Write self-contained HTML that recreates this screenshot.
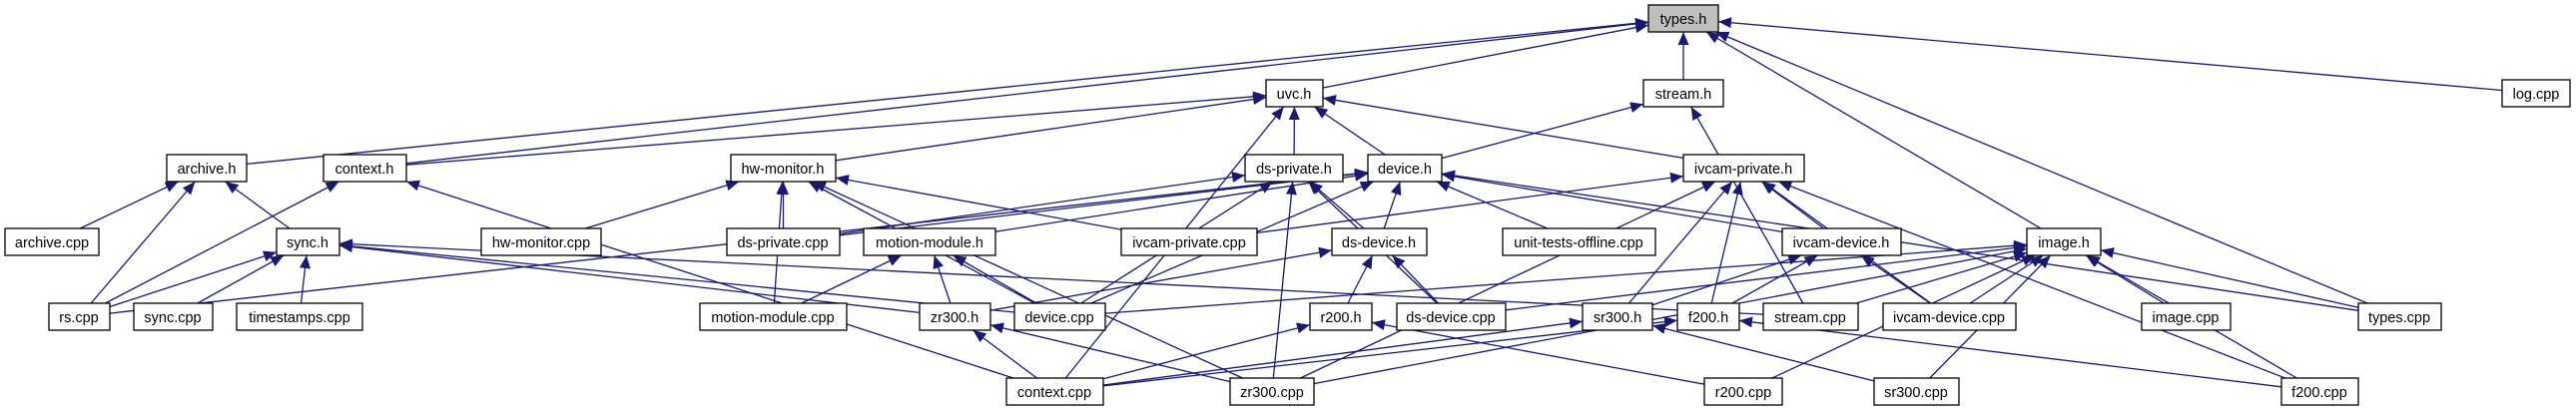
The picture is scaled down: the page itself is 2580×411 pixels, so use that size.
<!DOCTYPE html>
<html><head><meta charset="utf-8"><style>
html,body{margin:0;padding:0;background:#fff;}
svg{display:block;}
text{font-family:"Liberation Sans",sans-serif;font-size:14.5px;fill:#000;text-anchor:middle;}
rect{fill:#fff;stroke:#000;stroke-width:1.3;}
</style></head><body>
<svg id="g" width="2580" height="411" viewBox="0 0 2580 411" xmlns="http://www.w3.org/2000/svg">
<defs><marker id="a" markerUnits="userSpaceOnUse" markerWidth="14" markerHeight="12" refX="13" refY="5.5" orient="auto"><path d="M0,0 L13,5.5 L0,11 z" fill="#191970"/></marker></defs>
<g id="edges" fill="none" stroke="#191970" stroke-width="1.3"></g>
<g id="nodes">
<rect x="1651" y="5" width="70" height="27" style="fill:#bfbfbf"/><text x="1686" y="24">types.h</text>
<rect x="1268" y="80" width="57" height="27"/><text x="1296" y="99">uvc.h</text>
<rect x="1646" y="80" width="80" height="27"/><text x="1686" y="99">stream.h</text>
<rect x="2506" y="80" width="68" height="27"/><text x="2540" y="99">log.cpp</text>
<rect x="167" y="155" width="80" height="27"/><text x="207" y="174">archive.h</text>
<rect x="324" y="155" width="83" height="27"/><text x="365" y="174">context.h</text>
<rect x="732" y="155" width="105" height="27"/><text x="784" y="174">hw-monitor.h</text>
<rect x="1247" y="155" width="98" height="27"/><text x="1296" y="174">ds-private.h</text>
<rect x="1370" y="155" width="74" height="27"/><text x="1407" y="174">device.h</text>
<rect x="1686" y="155" width="121" height="27"/><text x="1746" y="174">ivcam-private.h</text>
<rect x="5" y="229" width="94" height="27"/><text x="52" y="248">archive.cpp</text>
<rect x="277" y="229" width="63" height="27"/><text x="308" y="248">sync.h</text>
<rect x="482" y="229" width="120" height="27"/><text x="542" y="248">hw-monitor.cpp</text>
<rect x="728" y="229" width="113" height="27"/><text x="784" y="248">ds-private.cpp</text>
<rect x="865" y="229" width="132" height="27"/><text x="931" y="248">motion-module.h</text>
<rect x="1123" y="229" width="136" height="27"/><text x="1191" y="248">ivcam-private.cpp</text>
<rect x="1334" y="229" width="95" height="27"/><text x="1381" y="248">ds-device.h</text>
<rect x="1505" y="229" width="153" height="27"/><text x="1581" y="248">unit-tests-offline.cpp</text>
<rect x="1785" y="229" width="119" height="27"/><text x="1844" y="248">ivcam-device.h</text>
<rect x="2030" y="229" width="74" height="27"/><text x="2067" y="248">image.h</text>
<rect x="49" y="304" width="61" height="27"/><text x="79" y="323">rs.cpp</text>
<rect x="134" y="304" width="79" height="27"/><text x="173" y="323">sync.cpp</text>
<rect x="237" y="304" width="126" height="27"/><text x="300" y="323">timestamps.cpp</text>
<rect x="701" y="304" width="147" height="27"/><text x="774" y="323">motion-module.cpp</text>
<rect x="921" y="304" width="71" height="27"/><text x="956" y="323">zr300.h</text>
<rect x="1016" y="304" width="91" height="27"/><text x="1061" y="323">device.cpp</text>
<rect x="1312" y="304" width="62" height="27"/><text x="1343" y="323">r200.h</text>
<rect x="1399" y="304" width="109" height="27"/><text x="1453" y="323">ds-device.cpp</text>
<rect x="1585" y="304" width="70" height="27"/><text x="1620" y="323">sr300.h</text>
<rect x="1680" y="304" width="62" height="27"/><text x="1711" y="323">f200.h</text>
<rect x="1766" y="304" width="95" height="27"/><text x="1813" y="323">stream.cpp</text>
<rect x="1886" y="304" width="133" height="27"/><text x="1952" y="323">ivcam-device.cpp</text>
<rect x="2145" y="304" width="89" height="27"/><text x="2189" y="323">image.cpp</text>
<rect x="2362" y="304" width="83" height="27"/><text x="2403" y="323">types.cpp</text>
<rect x="1008" y="379" width="97" height="27"/><text x="1056" y="398">context.cpp</text>
<rect x="1232" y="379" width="84" height="27"/><text x="1274" y="398">zr300.cpp</text>
<rect x="1707" y="379" width="78" height="27"/><text x="1746" y="398">r200.cpp</text>
<rect x="1877" y="379" width="85" height="27"/><text x="1919" y="398">sr300.cpp</text>
<rect x="2285" y="379" width="77" height="27"/><text x="2323" y="398">f200.cpp</text>
</g>
</svg>
<script>
var R=[5,80,155,229,304,379];
var N={
'types.h':[1651,1721,0],'uvc.h':[1268,1325,1],'stream.h':[1646,1726,1],'log.cpp':[2506,2574,1],
'archive.h':[167,247,2],'context.h':[324,407,2],'hw-monitor.h':[732,837,2],'ds-private.h':[1247,1345,2],'device.h':[1370,1444,2],'ivcam-private.h':[1686,1807,2],
'archive.cpp':[5,99,3],'sync.h':[277,340,3],'hw-monitor.cpp':[482,602,3],'ds-private.cpp':[728,841,3],'motion-module.h':[865,997,3],'ivcam-private.cpp':[1123,1259,3],'ds-device.h':[1334,1429,3],'unit-tests-offline.cpp':[1505,1658,3],'ivcam-device.h':[1785,1904,3],'image.h':[2030,2104,3],
'rs.cpp':[49,110,4],'sync.cpp':[134,213,4],'timestamps.cpp':[237,363,4],'motion-module.cpp':[701,848,4],'zr300.h':[921,992,4],'device.cpp':[1016,1107,4],'r200.h':[1312,1374,4],'ds-device.cpp':[1399,1508,4],'sr300.h':[1585,1655,4],'f200.h':[1680,1742,4],'stream.cpp':[1766,1861,4],'ivcam-device.cpp':[1886,2019,4],'image.cpp':[2145,2234,4],'types.cpp':[2362,2445,4],
'context.cpp':[1008,1105,5],'zr300.cpp':[1232,1316,5],'r200.cpp':[1707,1785,5],'sr300.cpp':[1877,1962,5],'f200.cpp':[2285,2362,5]};
var E=[['uvc.h','types.h'],['stream.h','types.h'],['archive.h','types.h'],['context.h','types.h'],['log.cpp','types.h'],['image.h','types.h'],['types.cpp','types.h'],
['context.h','uvc.h'],['hw-monitor.h','uvc.h'],['ds-private.h','uvc.h'],['device.h','uvc.h'],['ivcam-private.h','uvc.h'],['context.cpp','uvc.h'],
['device.h','stream.h'],['stream.cpp','stream.h'],
['archive.cpp','archive.h'],['rs.cpp','archive.h'],['sync.h','archive.h'],
['rs.cpp','context.h'],['context.cpp','context.h'],
['rs.cpp','sync.h'],['sync.cpp','sync.h'],['timestamps.cpp','sync.h'],['device.cpp','sync.h'],['zr300.h','sync.h'],['stream.cpp','sync.h'],
['hw-monitor.cpp','hw-monitor.h'],['ds-private.cpp','hw-monitor.h'],['motion-module.cpp','hw-monitor.h'],['zr300.cpp','hw-monitor.h'],['device.cpp','hw-monitor.h'],['ivcam-private.cpp','hw-monitor.h'],
['rs.cpp','device.h'],['ds-private.cpp','device.h'],['motion-module.h','device.h'],['device.cpp','device.h'],['ds-device.h','device.h'],['unit-tests-offline.cpp','device.h'],['ivcam-device.h','device.h'],['types.cpp','device.h'],
['ds-private.cpp','ds-private.h'],['ds-device.h','ds-private.h'],['zr300.cpp','ds-private.h'],['device.cpp','ds-private.h'],['ds-device.cpp','ds-private.h'],
['ivcam-private.cpp','ivcam-private.h'],['ivcam-device.h','ivcam-private.h'],['sr300.h','ivcam-private.h'],['f200.h','ivcam-private.h'],['ivcam-device.cpp','ivcam-private.h'],['f200.cpp','ivcam-private.h'],['zr300.cpp','ivcam-private.h'],
['motion-module.cpp','motion-module.h'],['zr300.h','motion-module.h'],['device.cpp','motion-module.h'],
['zr300.h','ds-device.h'],['r200.h','ds-device.h'],['ds-device.cpp','ds-device.h'],
['sr300.h','ivcam-device.h'],['f200.h','ivcam-device.h'],['ivcam-device.cpp','ivcam-device.h'],
['device.cpp','image.h'],['ds-device.cpp','image.h'],['stream.cpp','image.h'],['ivcam-device.cpp','image.h'],['image.cpp','image.h'],['types.cpp','image.h'],['r200.cpp','image.h'],['sr300.cpp','image.h'],['f200.cpp','image.h'],['zr300.cpp','image.h'],
['context.cpp','zr300.h'],['zr300.cpp','zr300.h'],['context.cpp','r200.h'],['r200.cpp','r200.h'],['context.cpp','sr300.h'],['sr300.cpp','sr300.h'],['context.cpp','f200.h'],['f200.cpp','f200.h']];
function box(n){var a=N[n];return {x1:a[0],x2:a[1],y1:R[a[2]],y2:R[a[2]]+27,cx:(a[0]+a[1])/2,cy:R[a[2]]+13.5};}
function clip(b,tx,ty){var dx=tx-b.cx,dy=ty-b.cy;var t=1e9;if(dx)t=Math.min(t,((b.x2-b.x1)/2)/Math.abs(dx));if(dy)t=Math.min(t,13.5/Math.abs(dy));return [b.cx+dx*t,b.cy+dy*t];}
var g=document.getElementById('edges');
E.forEach(function(e){var c=box(e[0]),p=box(e[1]);var s=clip(c,p.cx,p.cy),t=clip(p,c.cx,c.cy);
var el=document.createElementNS('http://www.w3.org/2000/svg','path');
el.setAttribute('d','M'+s[0].toFixed(1)+','+s[1].toFixed(1)+' L'+t[0].toFixed(1)+','+t[1].toFixed(1));
el.setAttribute('marker-end','url(#a)');g.appendChild(el);});
</script>
</body></html>
